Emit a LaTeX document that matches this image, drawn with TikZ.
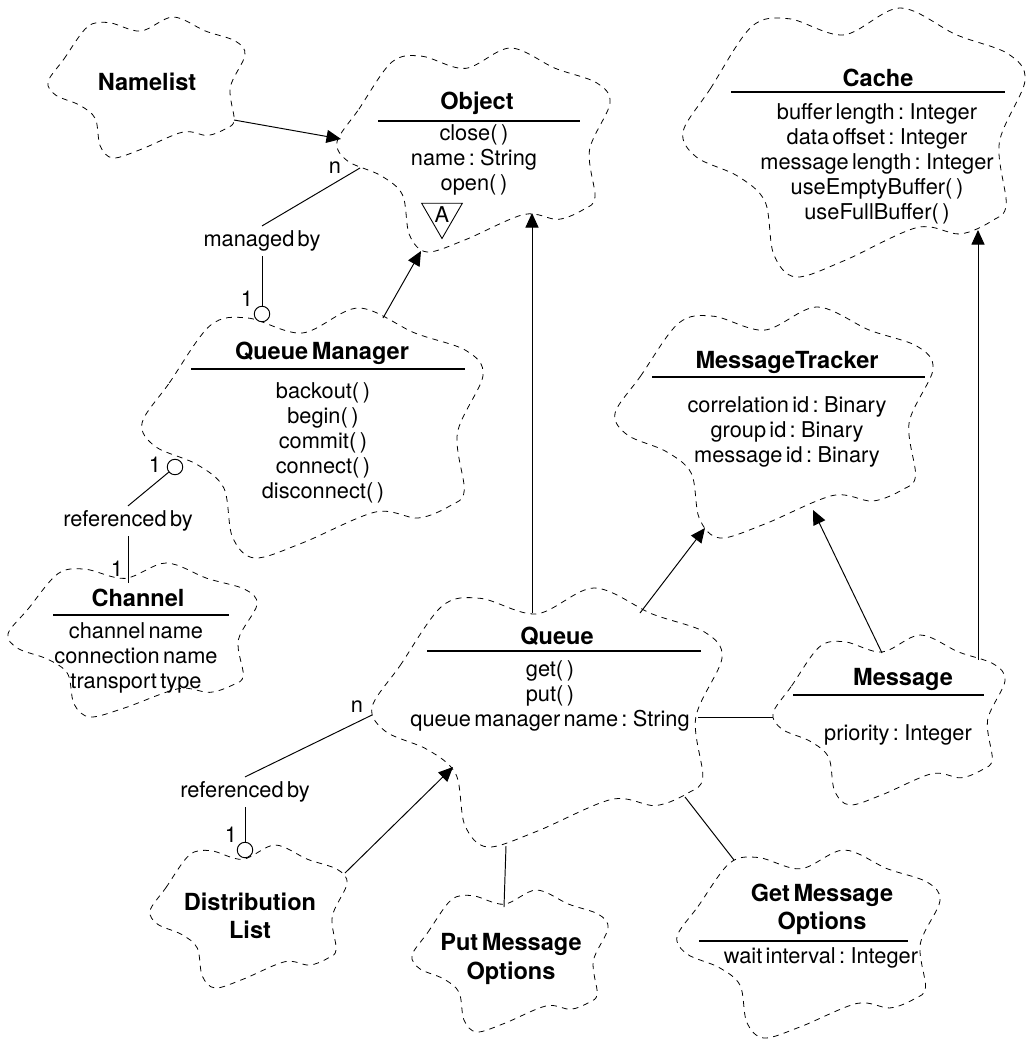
\documentclass[tikz,border=0pt]{standalone}
\usepackage{fontspec}
\setmainfont{TeX Gyre Heros}[WordSpace=0.55]
\usetikzlibrary{arrows.meta, shapes.geometric, positioning}

\tikzset{
  cloudline/.style={dash pattern=on 3.3pt off 3pt, line width=0.45pt},
  cls/.style={font=\fontsize{13.4}{16}\selectfont\bfseries, align=center, inner sep=1pt},
  attr/.style={font=\fontsize{12.4}{14.2}\selectfont, align=center, inner sep=1pt},
  sep/.style={line width=0.6pt},
  arr/.style={-{Triangle[length=2.9mm,width=2.6mm]}, line width=0.55pt},
  assoc/.style={line width=0.55pt},
  hasone/.style={circle, draw, fill=white, line width=0.55pt, minimum size=3.1mm, inner sep=0pt},
  role/.style={font=\fontsize{12.4}{14.2}\selectfont, inner sep=2.5pt},
  mult/.style={font=\fontsize{12.4}{14.2}\selectfont, inner sep=0pt},
  abstract/.style={regular polygon, regular polygon sides=3, shape border rotate=180,
    draw, line width=0.5pt, minimum size=9.4mm, inner sep=0pt,
    font=\fontsize{12.4}{14.2}\selectfont}
}

% booch class cloud: left, top, width, height
\newcommand{\booch}[4]{%
  \begin{scope}[shift={(#1,#2)}, xscale=#3, yscale=#4]
    \draw[cloudline] plot[smooth cycle, tension=0.55] coordinates {
      (0,0.46) (0.08,0.30) (0.20,0.07) (0.31,0.04) (0.47,0.10) (0.635,0)
      (0.80,0.10) (0.95,0.17) (1,0.27) (0.925,0.50) (0.945,0.73) (0.905,0.79)
      (0.81,0.84) (0.685,0.816) (0.47,0.94) (0.33,1) (0.265,0.915) (0.24,0.72)
      (0.16,0.625) (0.04,0.555)};
  \end{scope}}

\begin{document}
\begin{tikzpicture}[x=0.2mm, y=-0.2mm]
\useasboundingbox (0,0) rectangle (1027,1039);

% clouds
\booch{48}{17}{197}{141}
\booch{337}{48}{273}{204}
\booch{683}{8}{342}{269}
\booch{615}{307}{318}{231}
\booch{142}{308}{341}{250}
\booch{8}{563}{249}{154}
\booch{372}{588}{350}{259}
\booch{773}{635}{232}{170}
\booch{677}{850}{263}{188}
\booch{150}{845}{197}{143}
\booch{412}{890}{196}{142}

% classes
\node[cls] (namelist) at (147,82) {Namelist};

\node[cls] (object) at (477,103) {Object};
\draw[sep] (378,121) -- (580,121);
\node[attr] (object-ops) at (474,160) {close(\,)\\name : String\\open(\,)};
\node[abstract] (object-abs) at (442,215) {A};

\node[cls] (cache) at (878,78) {Cache};
\draw[sep] (731,92) -- (1005,92);
\node[attr] (cache-attrs) at (877,164) {buffer length : Integer\\data offset : Integer\\message length : Integer\\useEmptyBuffer(\,)\\useFullBuffer(\,)};

\node[cls] (tracker) at (787,362) {MessageTracker};
\draw[sep] (652,377) -- (925,377);
\node[attr] (tracker-attrs) at (787,432) {correlation id : Binary\\group id : Binary\\message id : Binary};

\node[cls] (qmgr) at (322,353) {Queue Manager};
\draw[sep] (191,369) -- (465,369);
\node[attr] (qmgr-ops) at (323,443) {backout(\,)\\begin(\,)\\commit(\,)\\connect(\,)\\disconnect(\,)};

\node[cls] (channel) at (138,598) {Channel};
\draw[sep] (53,615) -- (229,615);
\node[attr] (channel-attrs) at (136,658) {channel name\\connection name\\transport type};

\node[cls] (queue) at (557,636) {Queue};
\draw[sep] (427,651) -- (701,651);
\node[attr] (queue-ops) at (550,696) {get(\,)\\put(\,)\\queue manager name : String};

\node[cls] (message) at (903,679) {Message};
\draw[sep] (793,695) -- (984,695);
\node[attr] (message-attrs) at (898,735) {priority : Integer};

\node[cls] (getopts) at (822,909) {Get Message\\Options};
\draw[sep] (699,941) -- (908,941);
\node[attr] (getopts-attrs) at (821,958) {wait interval : Integer};

\node[cls] (distlist) at (250,916) {Distribution\\List};
\node[cls] (putopts) at (511,959) {Put Message\\Options};

% attach points on the clouds
\coordinate (namelist-out) at (234,120);
\coordinate (object-in) at (341,139);
\coordinate (object-mgr) at (360,168);
\coordinate (object-from-qm) at (421,251);
\coordinate (object-from-q) at (532,213);
\coordinate (qmgr-out) at (383,318);
\coordinate (channel-in) at (128,583);
\coordinate (queue-up) at (532,613);
\coordinate (queue-tr) at (640,613);
\coordinate (queue-msg) at (698,717);
\coordinate (queue-get) at (685,797);
\coordinate (queue-put) at (506,846);
\coordinate (queue-dl) at (372,715);
\coordinate (queue-from-dl) at (453,767);
\coordinate (tracker-q) at (705,528);
\coordinate (tracker-m) at (813,510);
\coordinate (message-tr) at (882,653);
\coordinate (message-up) at (978,660);
\coordinate (message-q) at (773,717);
\coordinate (cache-in) at (978,230);
\coordinate (getopts-in) at (734,860);
\coordinate (putopts-in) at (504,907);
\coordinate (distlist-out) at (345,873);

% associations
\node[hasone] (qmgr-one) at (262,314) {};
\node[hasone] (qmgr-one2) at (175,467) {};
\node[hasone] (distlist-one) at (245,850) {};

\node[role] (managed) at (262,241) {managed by};
\node[role] (chref) at (128,521) {referenced by};
\node[role] (dlref) at (245,792) {referenced by};

\node[mult] (object-n) at (335,168) {n};
\node[mult] (qmgr-1) at (247,299) {1};
\node[mult] (qmgr-1b) at (155,465) {1};
\node[mult] (channel-1) at (117,569) {1};
\node[mult] (queue-n) at (357,707) {n};
\node[mult] (distlist-1) at (231,835) {1};

\draw[arr] (namelist-out) -- (object-in);
\draw[assoc] (object-mgr) -- (managed.north);
\draw[assoc] (managed.south) -- (qmgr-one);
\draw[arr] (qmgr-out) -- (object-from-qm);
\draw[arr] (queue-up) -- (object-from-q);
\draw[assoc] (qmgr-one2) -- (chref.north);
\draw[assoc] (chref.south) -- (channel-in);
\draw[arr] (queue-tr) -- (tracker-q);
\draw[arr] (message-tr) -- (tracker-m);
\draw[arr] (message-up) -- (cache-in);
\draw[assoc] (queue-msg) -- (message-q);
\draw[assoc] (queue-get) -- (getopts-in);
\draw[assoc] (queue-put) -- (putopts-in);
\draw[arr] (distlist-out) -- (queue-from-dl);
\draw[assoc] (queue-dl) -- (dlref.north);
\draw[assoc] (dlref.south) -- (distlist-one);

\end{tikzpicture}
\end{document}
